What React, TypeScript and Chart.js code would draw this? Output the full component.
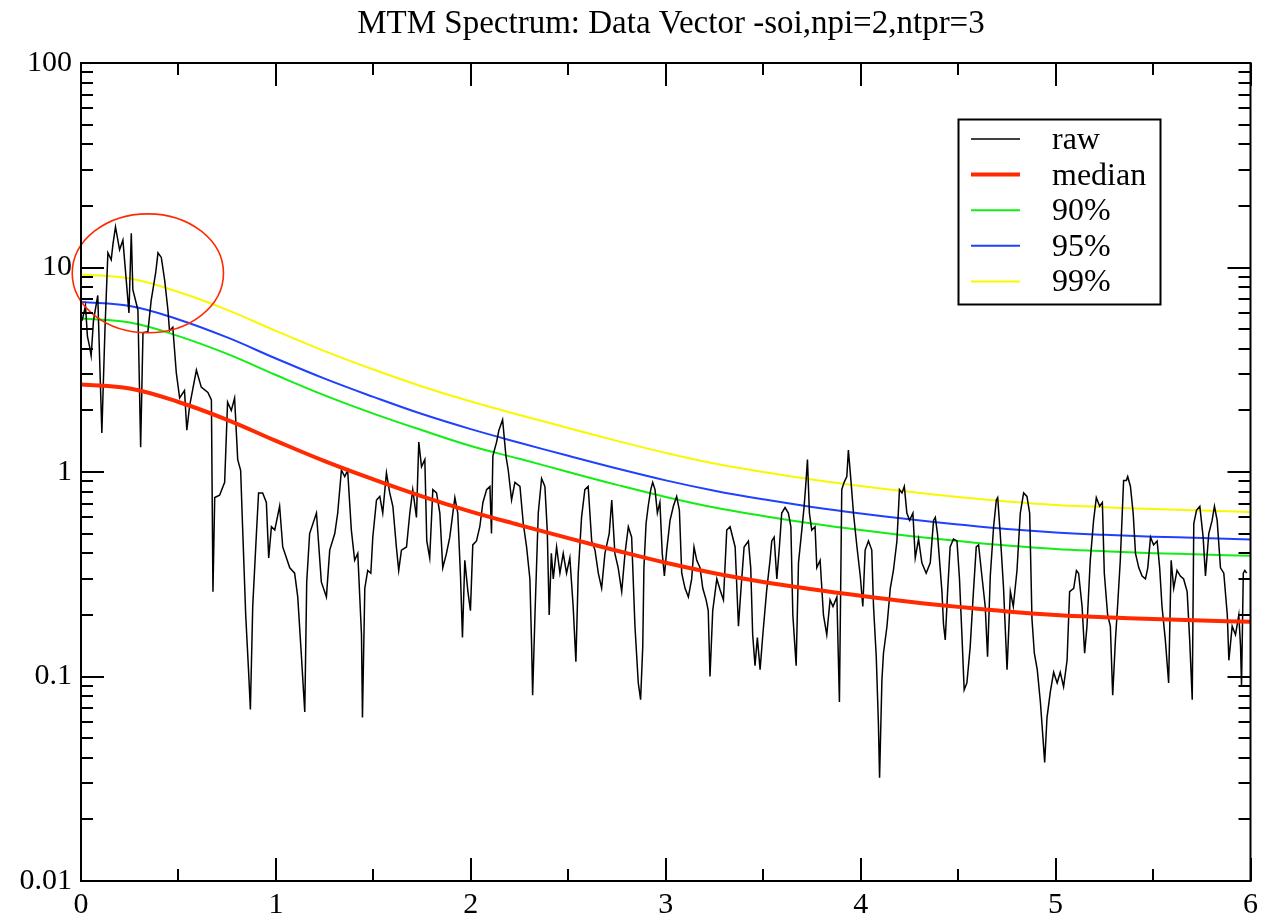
import React, { useEffect, useRef } from 'react';
import { Chart, registerables } from 'chart.js';

Chart.register(...registerables);

const titleText = 'MTM Spectrum: Data Vector -soi,npi=2,ntpr=3';
const seriesNames = ['raw', 'median', '90%', '95%', '99%'];
const seriesColors = ['#000000', '#ff2a00', '#11ee11', '#2040ff', '#f8f800'];
const seriesWidths = [1.5, 4, 2, 2, 2];

const xTickValues = [0, 1, 2, 3, 4, 5, 6];
const xTickLabels = ['0', '1', '2', '3', '4', '5', '6'];
const xMinorTicks = [0.5, 1.5, 2.5, 3.5, 4.5, 5.5];
const yTickValues = [0.01, 0.1, 1, 10, 100];
const yTickLabels = ['0.01', '0.1', '1', '10', '100'];

const curveX = [0, 0.25, 0.5, 0.75, 1, 1.25, 1.5, 1.75, 2, 2.25, 2.5, 2.75, 3, 3.25, 3.5, 3.75, 4, 4.25, 4.5, 4.75, 5, 5.25, 5.5, 5.75, 6];
const medianY = [2.68, 2.56, 2.2, 1.8, 1.42, 1.13, 0.92, 0.76, 0.64, 0.55, 0.475, 0.412, 0.36, 0.32, 0.29, 0.267, 0.248, 0.232, 0.219, 0.208, 0.2, 0.195, 0.191, 0.188, 0.185];
const p90Y = [5.63, 5.38, 4.62, 3.78, 2.98, 2.37, 1.93, 1.6, 1.34, 1.16, 1.0, 0.865, 0.755, 0.67, 0.61, 0.56, 0.52, 0.487, 0.46, 0.437, 0.42, 0.41, 0.401, 0.395, 0.389];
const p95Y = [6.78, 6.48, 5.57, 4.55, 3.59, 2.86, 2.33, 1.92, 1.62, 1.39, 1.2, 1.04, 0.91, 0.81, 0.735, 0.675, 0.627, 0.587, 0.554, 0.526, 0.506, 0.493, 0.483, 0.476, 0.468];
const p99Y = [9.25, 8.83, 7.59, 6.21, 4.9, 3.9, 3.17, 2.62, 2.21, 1.9, 1.64, 1.42, 1.24, 1.1, 1.0, 0.92, 0.855, 0.8, 0.755, 0.718, 0.69, 0.673, 0.659, 0.649, 0.638];

const rawX = [
  0.006, 0.023, 0.033, 0.044, 0.052, 0.064, 0.086, 0.098, 0.107, 0.112, 0.123, 0.138, 0.155, 0.164, 0.177, 0.198, 0.215, 0.232, 0.246, 0.258,
  0.266, 0.292, 0.306, 0.318, 0.343, 0.36, 0.383, 0.395, 0.412, 0.429, 0.446, 0.454, 0.471, 0.489, 0.506, 0.531, 0.543, 0.557, 0.592, 0.617,
  0.651, 0.669, 0.677, 0.686, 0.711, 0.737, 0.752, 0.771, 0.788, 0.804, 0.819, 0.829, 0.845, 0.86, 0.869, 0.881, 0.9, 0.911, 0.932, 0.951,
  0.963, 0.977, 0.994, 1.019, 1.035, 1.071, 1.096, 1.112, 1.131, 1.148, 1.158, 1.173, 1.208, 1.233, 1.259, 1.276, 1.302, 1.317, 1.336, 1.353,
  1.368, 1.387, 1.404, 1.42, 1.439, 1.444, 1.456, 1.471, 1.487, 1.497, 1.516, 1.533, 1.548, 1.567, 1.584, 1.6, 1.618, 1.63, 1.644, 1.67,
  1.687, 1.702, 1.721, 1.733, 1.747, 1.764, 1.774, 1.789, 1.805, 1.824, 1.841, 1.856, 1.875, 1.892, 1.918, 1.933, 1.947, 1.957, 1.969, 1.985,
  1.998, 2.01, 2.029, 2.046, 2.062, 2.081, 2.098, 2.106, 2.113, 2.132, 2.144, 2.163, 2.18, 2.192, 2.209, 2.226, 2.252, 2.269, 2.286, 2.303,
  2.312, 2.317, 2.329, 2.346, 2.363, 2.38, 2.392, 2.402, 2.413, 2.423, 2.44, 2.457, 2.474, 2.491, 2.508, 2.525, 2.539, 2.551, 2.568, 2.585,
  2.602, 2.62, 2.637, 2.654, 2.671, 2.688, 2.71, 2.723, 2.739, 2.756, 2.774, 2.791, 2.808, 2.825, 2.842, 2.859, 2.871, 2.882, 2.888, 2.899,
  2.91, 2.923, 2.933, 2.945, 2.957, 2.97, 2.982, 2.993, 3.005, 3.022, 3.039, 3.056, 3.07, 3.082, 3.099, 3.116, 3.133, 3.145, 3.159, 3.176,
  3.19, 3.207, 3.218, 3.227, 3.241, 3.262, 3.279, 3.296, 3.313, 3.33, 3.356, 3.373, 3.385, 3.402, 3.424, 3.436, 3.446, 3.458, 3.47, 3.484,
  3.498, 3.518, 3.535, 3.544, 3.556, 3.57, 3.583, 3.595, 3.612, 3.629, 3.642, 3.652, 3.669, 3.681, 3.698, 3.71, 3.72, 3.727, 3.737, 3.749,
  3.766, 3.775, 3.792, 3.809, 3.826, 3.843, 3.858, 3.878, 3.891, 3.903, 3.915, 3.929, 3.937, 3.95, 3.963, 3.981, 3.998, 4.011, 4.023, 4.04,
  4.057, 4.066, 4.08, 4.091, 4.097, 4.109, 4.117, 4.135, 4.152, 4.168, 4.186, 4.199, 4.212, 4.224, 4.237, 4.251, 4.268, 4.28, 4.297, 4.314,
  4.336, 4.357, 4.374, 4.383, 4.394, 4.417, 4.425, 4.434, 4.446, 4.459, 4.476, 4.494, 4.507, 4.52, 4.531, 4.545, 4.562, 4.576, 4.593, 4.605,
  4.622, 4.639, 4.651, 4.665, 4.682, 4.696, 4.703, 4.716, 4.733, 4.751, 4.768, 4.783, 4.802, 4.819, 4.836, 4.853, 4.867, 4.879, 4.891, 4.906,
  4.922, 4.936, 4.944, 4.956, 4.973, 4.99, 5.008, 5.024, 5.041, 5.059, 5.072, 5.093, 5.107, 5.118, 5.136, 5.149, 5.161, 5.178, 5.195, 5.209,
  5.226, 5.24, 5.25, 5.267, 5.281, 5.293, 5.307, 5.318, 5.332, 5.349, 5.363, 5.37, 5.384, 5.398, 5.41, 5.427, 5.444, 5.461, 5.473, 5.487,
  5.503, 5.521, 5.534, 5.546, 5.563, 5.58, 5.593, 5.606, 5.623, 5.64, 5.657, 5.675, 5.688, 5.701, 5.709, 5.723, 5.74, 5.757, 5.769, 5.786,
  5.803, 5.815, 5.829, 5.846, 5.863, 5.881, 5.889, 5.906, 5.923, 5.94, 5.949, 5.954, 5.963, 5.971, 5.98
];
const rawY = [
  5.5, 6.5, 4.6, 4.1, 3.7, 5.5, 7.3, 3.0, 1.55, 2.25, 5.0, 11.8, 10.9, 13.0, 15.8, 12.2, 13.6, 8.7, 6.0, 14.7,
  7.8, 6.2, 1.32, 4.8, 4.85, 6.9, 9.4, 11.8, 11.2, 8.7, 6.2, 4.9, 5.1, 3.05, 2.3, 2.5, 1.6, 2.1, 3.15, 2.6,
  2.45, 2.25, 0.26, 0.75, 0.77, 0.89, 2.2, 2.0, 2.3, 1.15, 1.02, 0.54, 0.2, 0.105, 0.069, 0.22, 0.5, 0.79, 0.79, 0.71,
  0.38, 0.54, 0.52, 0.68, 0.43, 0.34, 0.32, 0.245, 0.125, 0.067, 0.29, 0.5, 0.63, 0.29, 0.245, 0.415, 0.5, 0.63, 1.02, 0.95,
  1.02, 0.52, 0.37, 0.4, 0.16, 0.063, 0.27, 0.33, 0.32, 0.48, 0.73, 0.76, 0.63, 0.99, 0.79, 0.68, 0.43, 0.33, 0.415, 0.43,
  0.63, 0.82, 0.6, 1.4, 1.06, 1.15, 0.46, 0.38, 0.82, 0.79, 0.63, 0.34, 0.4, 0.48, 0.75, 0.63, 0.31, 0.155, 0.37, 0.26,
  0.21, 0.44, 0.46, 0.54, 0.71, 0.82, 0.85, 0.5, 1.2, 1.4, 1.6, 1.8, 1.2, 1.02, 0.73, 0.89, 0.85, 0.56, 0.43, 0.3,
  0.14, 0.081, 0.2, 0.63, 0.93, 0.85, 0.52, 0.2, 0.4, 0.3, 0.43, 0.32, 0.4, 0.32, 0.38, 0.22, 0.118, 0.32, 0.6, 0.82,
  0.85, 0.46, 0.415, 0.32, 0.27, 0.4, 0.5, 0.73, 0.4, 0.34, 0.26, 0.4, 0.54, 0.48, 0.176, 0.093, 0.077, 0.14, 0.34, 0.56,
  0.68, 0.82, 0.89, 0.82, 0.63, 0.71, 0.4, 0.31, 0.415, 0.58, 0.68, 0.76, 0.65, 0.32, 0.27, 0.245, 0.3, 0.43, 0.37, 0.34,
  0.27, 0.237, 0.21, 0.1, 0.21, 0.3, 0.265, 0.237, 0.52, 0.54, 0.43, 0.176, 0.26, 0.43, 0.46, 0.34, 0.16, 0.113, 0.155, 0.108,
  0.16, 0.265, 0.37, 0.46, 0.48, 0.3, 0.43, 0.63, 0.67, 0.63, 0.54, 0.2, 0.113, 0.36, 0.52, 0.68, 0.91, 1.15, 0.63, 0.52,
  0.54, 0.34, 0.37, 0.2, 0.16, 0.237, 0.22, 0.245, 0.075, 0.82, 0.89, 0.95, 1.28, 0.91, 0.63, 0.43, 0.31, 0.22, 0.415, 0.46,
  0.415, 0.22, 0.125, 0.059, 0.032, 0.096, 0.13, 0.176, 0.27, 0.33, 0.46, 0.82, 0.79, 0.85, 0.63, 0.58, 0.63, 0.38, 0.47, 0.36,
  0.32, 0.36, 0.58, 0.6, 0.5, 0.26, 0.18, 0.151, 0.26, 0.43, 0.47, 0.46, 0.3, 0.155, 0.086, 0.093, 0.14, 0.237, 0.43, 0.44,
  0.31, 0.22, 0.125, 0.31, 0.54, 0.73, 0.75, 0.5, 0.27, 0.108, 0.26, 0.22, 0.33, 0.63, 0.79, 0.76, 0.63, 0.19, 0.13, 0.108,
  0.075, 0.049, 0.038, 0.063, 0.084, 0.105, 0.093, 0.105, 0.089, 0.12, 0.26, 0.27, 0.33, 0.32, 0.22, 0.13, 0.176, 0.37, 0.58, 0.75,
  0.68, 0.71, 0.32, 0.2, 0.176, 0.081, 0.151, 0.22, 0.37, 0.91, 0.91, 0.95, 0.85, 0.63, 0.4, 0.34, 0.31, 0.3, 0.34, 0.48,
  0.44, 0.46, 0.34, 0.22, 0.151, 0.093, 0.37, 0.27, 0.33, 0.31, 0.3, 0.26, 0.151, 0.077, 0.56, 0.65, 0.68, 0.48, 0.31, 0.5,
  0.58, 0.68, 0.58, 0.34, 0.32, 0.2, 0.12, 0.176, 0.16, 0.2, 0.14, 0.089, 0.32, 0.33, 0.32
];

// annotation ellipse bounds in data units
const ellipseXRange = [-0.045, 0.731];
const ellipseYRange = [4.8, 18.3];

const serif = '"Liberation Serif", "Times New Roman", Times, serif';

const decorPlugin = {
  id: 'decor',
  afterDatasetsDraw(chart: any) {
    const { ctx } = chart;
    const xs = chart.scales.x;
    const ys = chart.scales.y;
    const l = xs.getPixelForValue(ellipseXRange[0]);
    const r = xs.getPixelForValue(ellipseXRange[1]);
    const t = ys.getPixelForValue(ellipseYRange[1]);
    const b = ys.getPixelForValue(ellipseYRange[0]);
    ctx.save();
    ctx.strokeStyle = '#ff2a00';
    ctx.lineWidth = 1.6;
    ctx.beginPath();
    ctx.ellipse((l + r) / 2, (t + b) / 2, (r - l) / 2, (b - t) / 2, 0, 0, Math.PI * 2);
    ctx.stroke();
    ctx.restore();
  },
  afterDraw(chart: any) {
    const { ctx, chartArea } = chart;
    const xs = chart.scales.x;
    const ys = chart.scales.y;
    const { left, right, top, bottom } = chartArea;
    const major = 23;
    const minor = 12;
    ctx.save();
    ctx.strokeStyle = '#000';
    ctx.lineWidth = 2;
    ctx.beginPath();
    const vTick = (px: number, len: number) => {
      ctx.moveTo(px, bottom); ctx.lineTo(px, bottom - len);
      ctx.moveTo(px, top); ctx.lineTo(px, top + len);
    };
    const hTick = (py: number, len: number) => {
      ctx.moveTo(left, py); ctx.lineTo(left + len, py);
      ctx.moveTo(right, py); ctx.lineTo(right - len, py);
    };
    xTickValues.forEach((v) => vTick(Math.round(xs.getPixelForValue(v)), major));
    xMinorTicks.forEach((v) => vTick(Math.round(xs.getPixelForValue(v)), minor));
    yTickValues.forEach((v, i) => {
      hTick(Math.round(ys.getPixelForValue(v)), major);
      if (i < yTickValues.length - 1) {
        for (let k = 2; k <= 9; k++) hTick(Math.round(ys.getPixelForValue(v * k)), minor);
      }
    });
    ctx.stroke();
    ctx.strokeRect(left, top, right - left, bottom - top);

    // title
    ctx.fillStyle = '#000';
    ctx.font = `33px ${serif}`;
    ctx.textAlign = 'center';
    ctx.textBaseline = 'alphabetic';
    ctx.fillText(titleText, 671, 33);

    // legend box
    const bx = 958.5, by = 119.5, bw = 202, bh = 185;
    ctx.fillStyle = '#fff';
    ctx.fillRect(bx, by, bw, bh);
    ctx.lineWidth = 2;
    ctx.strokeStyle = '#000';
    ctx.strokeRect(bx, by, bw, bh);
    ctx.font = `32px ${serif}`;
    ctx.textAlign = 'left';
    seriesNames.forEach((name, i) => {
      const base = 149 + i * 35.6;
      const ly = base - 10;
      ctx.beginPath();
      ctx.strokeStyle = seriesColors[i];
      ctx.lineWidth = seriesWidths[i];
      ctx.moveTo(971, ly);
      ctx.lineTo(1020, ly);
      ctx.stroke();
      ctx.fillStyle = '#000';
      ctx.fillText(name, 1052, base);
    });
    ctx.restore();
  }
};

export default function App() {
  const canvasRef = useRef<HTMLCanvasElement | null>(null);

  useEffect(() => {
    if (!canvasRef.current) return;
    const mk = (ys: number[]) => curveX.map((x, i) => ({ x, y: ys[i] }));
    const chart = new Chart(canvasRef.current, {
      type: 'line',
      data: {
        datasets: [
          {
            label: seriesNames[1], data: mk(medianY), borderColor: seriesColors[1], borderWidth: seriesWidths[1],
            pointRadius: 0, tension: 0.4, order: 0
          },
          {
            label: seriesNames[0], data: rawX.map((x, i) => ({ x, y: rawY[i] })), borderColor: seriesColors[0],
            borderWidth: seriesWidths[0], pointRadius: 0, tension: 0, order: 1
          },
          {
            label: seriesNames[2], data: mk(p90Y), borderColor: seriesColors[2], borderWidth: seriesWidths[2],
            pointRadius: 0, tension: 0.4, order: 2
          },
          {
            label: seriesNames[3], data: mk(p95Y), borderColor: seriesColors[3], borderWidth: seriesWidths[3],
            pointRadius: 0, tension: 0.4, order: 2
          },
          {
            label: seriesNames[4], data: mk(p99Y), borderColor: seriesColors[4], borderWidth: seriesWidths[4],
            pointRadius: 0, tension: 0.4, order: 2
          }
        ]
      } as any,
      options: {
        animation: false,
        responsive: true,
        maintainAspectRatio: false,
        devicePixelRatio: 1,
        layout: { padding: { top: 63, right: 13, left: 0, bottom: 0 } },
        plugins: {
          legend: { display: false },
          title: { display: false },
          tooltip: { enabled: false }
        },
        scales: {
          x: {
            type: 'linear',
            min: 0,
            max: 6,
            grid: { display: false, drawTicks: false },
            border: { display: false },
            afterBuildTicks: (s: any) => { s.ticks = xTickValues.map((v) => ({ value: v })); },
            afterFit: (s: any) => { s.height = 38; },
            ticks: {
              autoSkip: false,
              maxRotation: 0,
              padding: 6,
              color: '#000',
              font: { family: serif, size: 30 },
              callback: (_v: any, i: number) => xTickLabels[i]
            }
          },
          y: {
            type: 'logarithmic',
            min: 0.01,
            max: 100,
            grid: { display: false, drawTicks: false },
            border: { display: false },
            afterBuildTicks: (s: any) => { s.ticks = yTickValues.map((v) => ({ value: v })); },
            afterFit: (s: any) => { s.width = 81; },
            ticks: {
              autoSkip: false,
              padding: 9,
              color: '#000',
              font: { family: serif, size: 30 },
              callback: (_v: any, i: number) => yTickLabels[i]
            }
          }
        }
      } as any,
      plugins: [decorPlugin]
    });
    return () => chart.destroy();
  }, []);

  return (
    <div style={{ position: 'absolute', left: 0, top: 0, width: 1264, height: 919, background: '#fff' }}>
      <canvas ref={canvasRef} />
    </div>
  );
}
